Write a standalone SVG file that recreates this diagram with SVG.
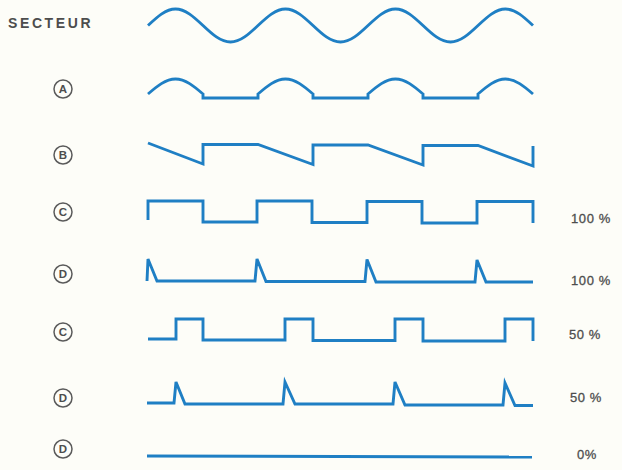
<svg xmlns="http://www.w3.org/2000/svg" width="622" height="470" viewBox="0 0 622 470">
<style>
.w{fill:none;stroke:#1f7fc4;stroke-width:2.9;stroke-linejoin:miter;stroke-linecap:butt}
.t{font-family:"Liberation Sans","DejaVu Sans",sans-serif;fill:#4d4d4d;font-weight:bold}
.c{fill:none;stroke:#5a5a5a;stroke-width:1.5}
.l{font-family:"Liberation Sans","DejaVu Sans",sans-serif;fill:#4d4d4d;font-size:11.5px;font-weight:bold;text-anchor:middle}
.p{font-size:13px;font-weight:normal;letter-spacing:0.6px;stroke:#4d4d4d;stroke-width:0.3}
</style>
<rect width="622" height="470" fill="#fdfdf8"/>
<g id="labels">
<text class="t" x="8" y="27.5" font-size="14" letter-spacing="2.6">SECTEUR</text>
<g id="lA"><circle class="c" cx="63" cy="89" r="9"/><text class="l" x="63" y="93.1">A</text></g>
<g id="lB"><circle class="c" cx="63" cy="155" r="9"/><text class="l" x="63" y="159.1">B</text></g>
<g id="lC1"><circle class="c" cx="63" cy="212" r="9"/><text class="l" x="63" y="216.1">C</text></g>
<g id="lD1"><circle class="c" cx="63" cy="274" r="9"/><text class="l" x="63" y="278.1">D</text></g>
<g id="lC2"><circle class="c" cx="63" cy="332" r="9"/><text class="l" x="63" y="336.1">C</text></g>
<g id="lD2"><circle class="c" cx="63" cy="398" r="9"/><text class="l" x="63" y="402.1">D</text></g>
<g id="lD3"><circle class="c" cx="63" cy="449" r="9"/><text class="l" x="63" y="453.1">D</text></g>
<text class="t p" x="571" y="222.5">100 %</text>
<text class="t p" x="571" y="285">100 %</text>
<text class="t p" x="569" y="338.5">50 %</text>
<text class="t p" x="570" y="402">50 %</text>
<text class="t p" x="577" y="459">0%</text>
</g>
<g id="waves">
<path id="secteur" class="w" d="M148,25.5 C156.97,17.05 165.55,9 175.5,9 S194.03,17.05 203,25.5 S220.55,42 230.5,42 S249.03,33.95 258,25.5 S275.55,9 285.5,9 S304.03,17.05 313,25.5 S330.55,42 340.5,42 S359.03,33.95 368,25.5 S385.55,9 395.5,9 S414.03,17.05 423,25.5 S440.55,42 450.5,42 S469.03,33.95 478,25.5 S495.55,9 505.5,9 S524.03,17.05 533,25.5"/>
<path id="A" class="w" d="M148,94 C156.97,86.32 165.55,79 175.5,79 S194.03,86.32 203,94 L203,98 L258,98 L258,94 C266.97,86.32 275.55,79 285.5,79 S304.03,86.32 313,94 L313,98 L368,98 L368,94 C376.97,86.32 385.55,79 395.5,79 S414.03,86.32 423,94 L423,98 L478,98 L478,94 C486.97,86.32 495.55,79 505.5,79 S524.03,86.32 533,94"/>
<path id="B" class="w" d="M148,143 L203,164 L203,144.5 L258,144.5 L313,164.5 L313,145 L368,145 L423,165 L423,145.5 L478,145.5 L533,166 L533,146"/>
<path id="C100" class="w" d="M148,220 L148,201 L203,201 L203,222 L257,222 L257,201 L312,201 L312,222.5 L367,222.5 L367,201.5 L422,201.5 L422,223 L477,223 L477,201.5 L533,201.5 L533,223"/>
<path id="D100" class="w" d="M147,281 L148,259 L157,281 L255,281 L257,259 L266,281.5 L365,281.5 L367,259.5 L376,282 L475,282 L477,260 L486,282 L533,282"/>
<path id="C50" class="w" d="M148,339 L176,339 L176,319 L203,319 L203,340 L285,340 L285,319 L313,319 L313,340.5 L395,340.5 L395,319 L423,319 L423,341 L505,341 L505,319 L533,319 L533,341"/>
<path id="D50" class="w" d="M147,403 L174,403 L176,382 L185,404 L283,404 L285,382 L295,404 L393,404 L395,382 L405,405 L503,405 L505,383 L515,405.5 L533,405.5"/>
<path id="D0" class="w" d="M147,456 L532,457"/>
</g>
</svg>
